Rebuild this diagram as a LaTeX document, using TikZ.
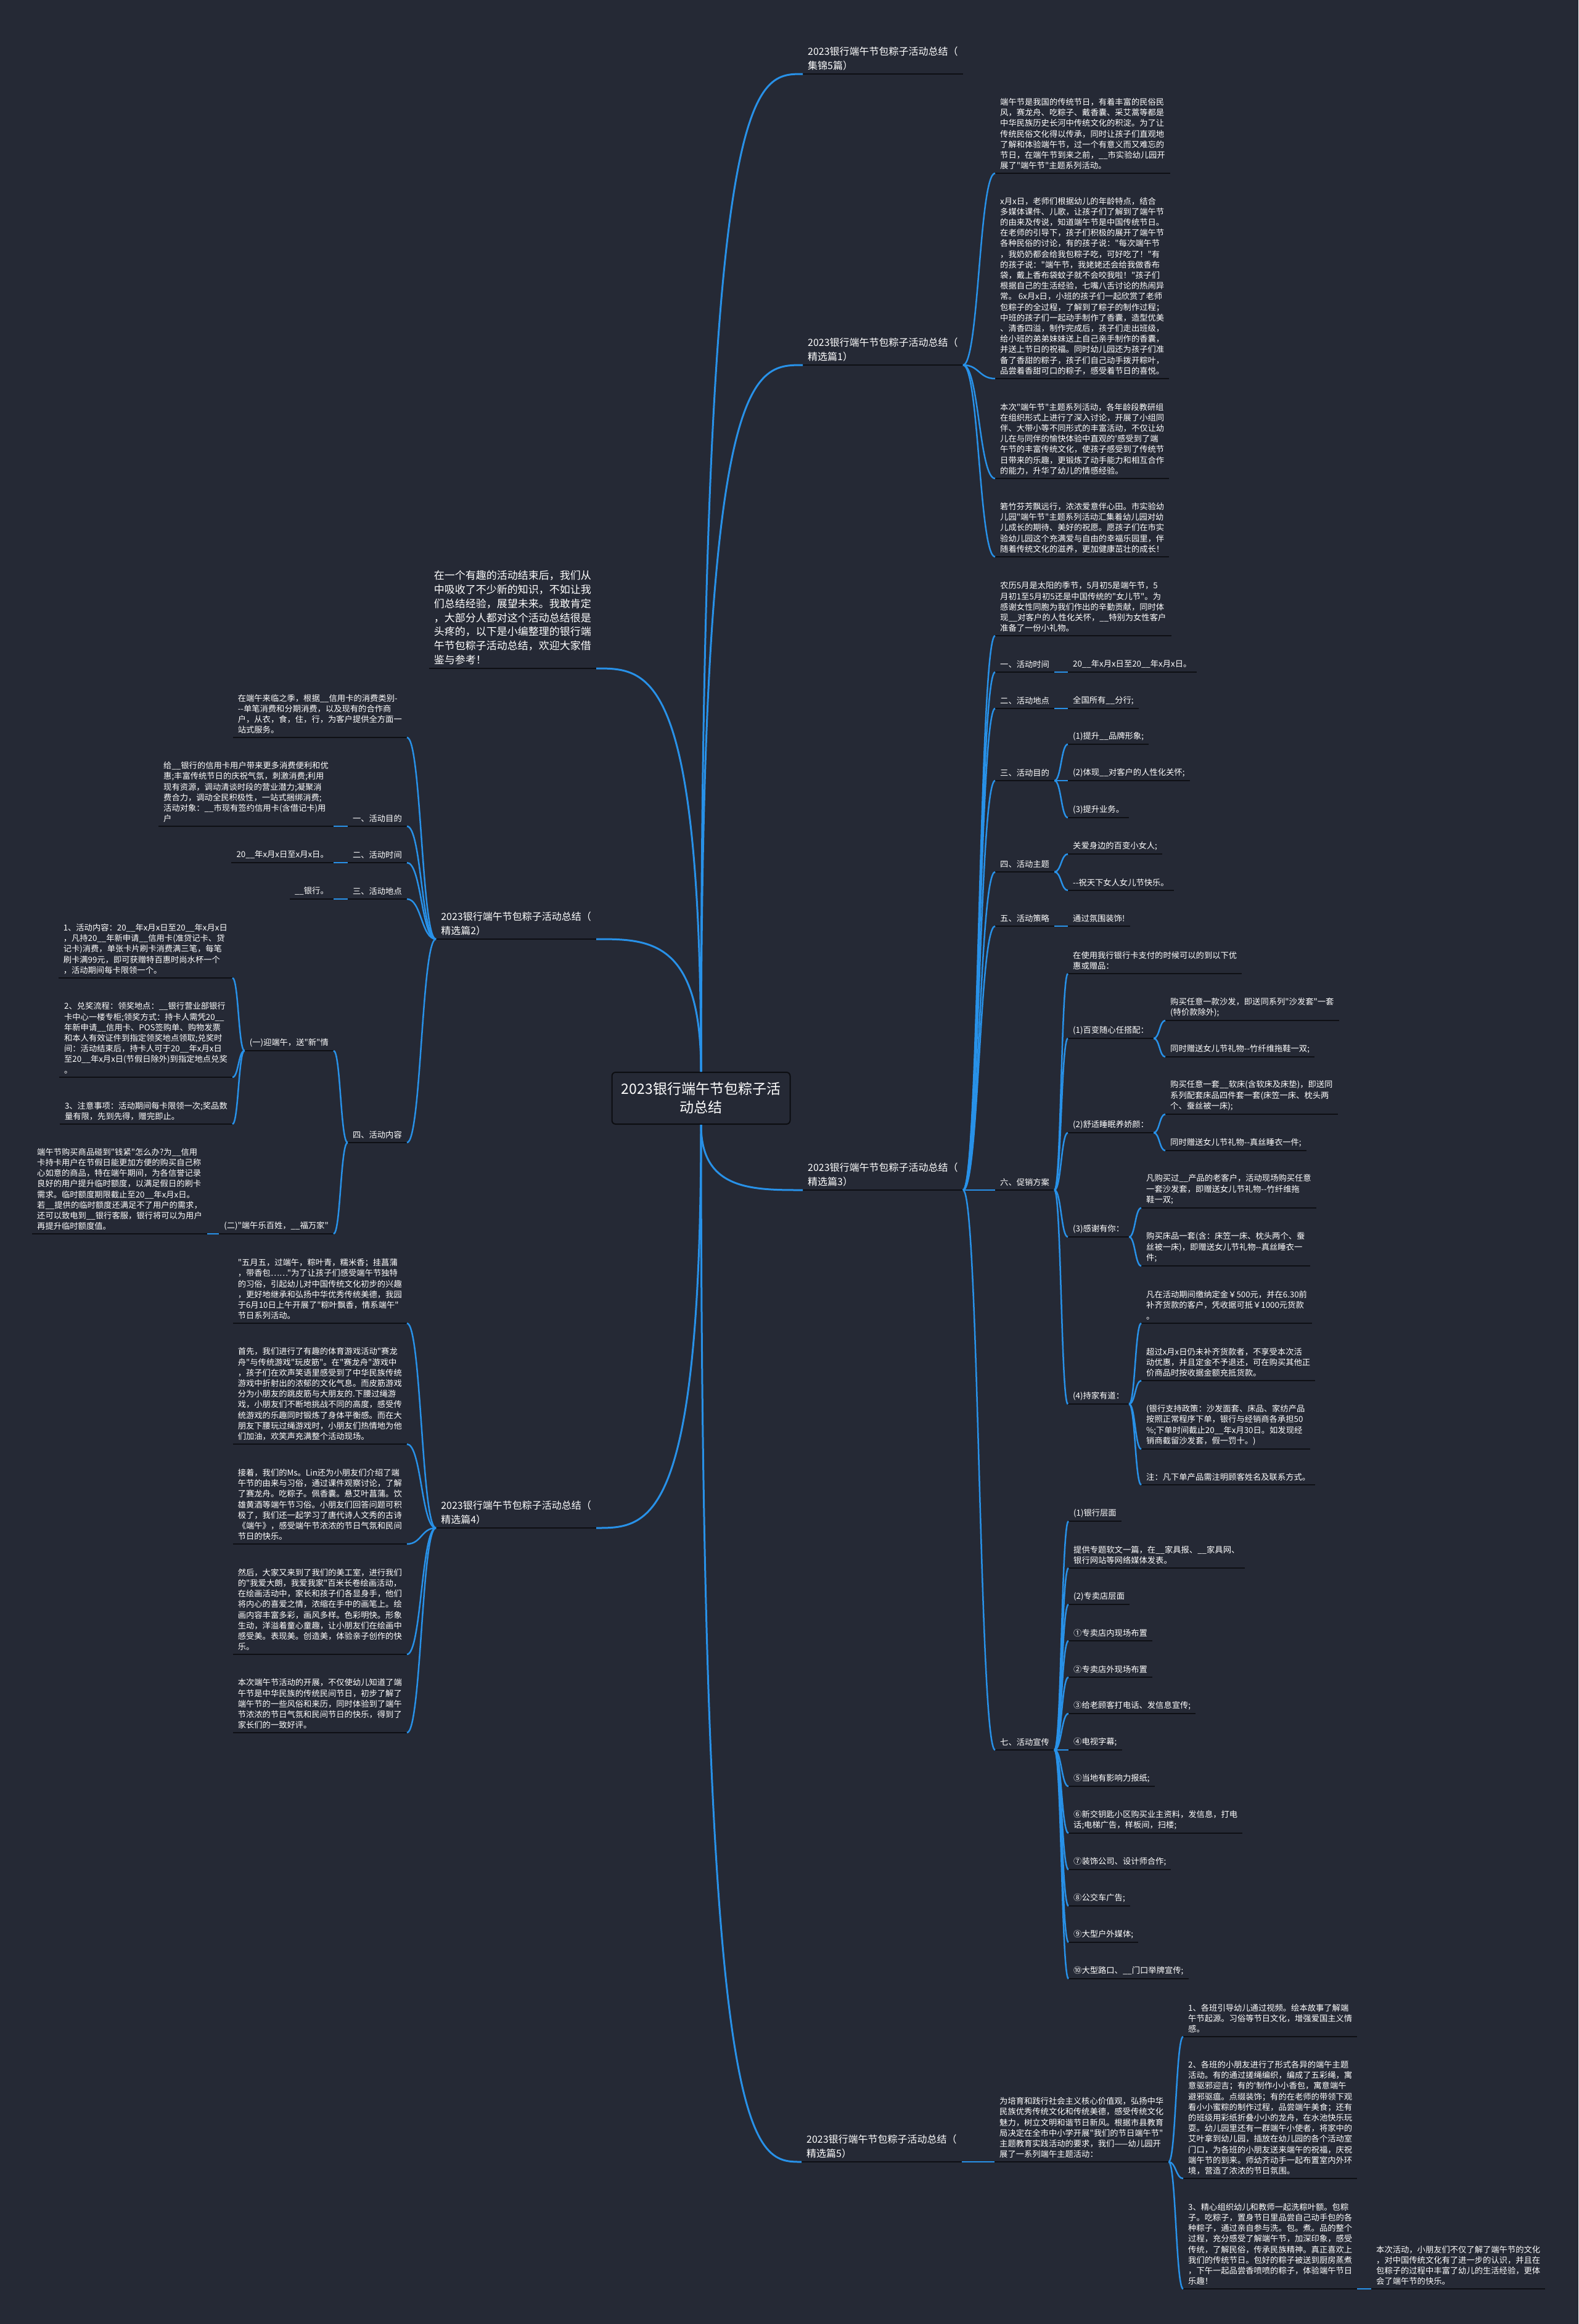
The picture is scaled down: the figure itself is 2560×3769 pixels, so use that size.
\documentclass[tikz,border=0pt]{standalone}
\usepackage{fontspec}
\setmainfont{Noto Sans CJK SC}[Ligatures=TeXOff]
\usetikzlibrary{calc}

\definecolor{bgc}{RGB}{37,41,53}
\definecolor{linkblue}{RGB}{40,145,232}
\definecolor{ulc}{RGB}{14,15,20}
\definecolor{rootedge}{RGB}{12,13,17}

\newcommand\bodyfont{\fontsize{13.3}{17.2}\selectfont}
\newcommand\titlefont{\fontsize{16}{23}\selectfont}
\newcommand\introfont{\fontsize{17}{22.8}\selectfont}
\newcommand\rootfont{\fontsize{23}{30}\selectfont}

\begin{document}
\begin{tikzpicture}[
        x=1pt, y=-1pt,
        hub/.style={
            rectangle, rounded corners=6pt, draw=rootedge, fill=bgc, line width=2pt,
            minimum width=289pt, minimum height=84pt, align=center,
            font=\rootfont, text=white
        },
        uline/.style={draw=ulc, line width=2.5pt},
        leaf/.style={
            anchor=south west, align=left, inner xsep=8pt, inner ysep=6pt,
            font=\bodyfont, text=white,
            append after command={(\tikzlastnode.south west) edge[uline] (\tikzlastnode.south east)}
        },
        leafL/.style={leaf, anchor=south east},
        branch/.style={leaf, font=\titlefont},
        branchL/.style={leafL, font=\titlefont},
        limb/.style={draw=linkblue, line width=3pt,
            to path={.. controls (\tikztostart |- \tikztotarget) and ($(\tikztostart |- \tikztotarget)!0.5!(\tikztotarget)$) .. (\tikztotarget)}},
        twig/.style={draw=linkblue, line width=2.5pt,
            to path={.. controls ($(\tikztostart)!0.5!(\tikztostart -| \tikztotarget)$) and ($(\tikztotarget)!0.5!(\tikztotarget -| \tikztostart)$) .. (\tikztotarget)}}
    ]
    \fill[bgc] (0,0) rectangle (2560,3769);
    \useasboundingbox (0,0) rectangle (2560,3769);

    % Root
    \node[hub] (root) at (1137,1781) {2023银行端午节包粽子活\\动总结};

    % Right: titles
    \node[branch] (t0) at (1302,120) {2023银行端午节包粽子活动总结（\\集锦5篇）};
    \node[branch] (t1) at (1302,592) {2023银行端午节包粽子活动总结（\\精选篇1）};
    \node[branch] (t3) at (1302,1930) {2023银行端午节包粽子活动总结（\\精选篇3）};
    \node[branch] (t5) at (1300,3506) {2023银行端午节包粽子活动总结（\\精选篇5）};

    % Left: intro and titles
    \node[leafL, font=\introfont] (intro) at (967,1084) {在一个有趣的活动结束后，我们从\\中吸收了不少新的知识，不如让我\\们总结经验，展望未来。我敢肯定\\，大部分人都对这个活动总结很是\\头疼的，以下是小编整理的银行端\\午节包粽子活动总结，欢迎大家借\\鉴与参考！};
    \node[branchL] (t2) at (967,1523) {2023银行端午节包粽子活动总结（\\精选篇2）};
    \node[branchL] (t4) at (967,2478) {2023银行端午节包粽子活动总结（\\精选篇4）};

    % Piece 1
    \node[leaf] (t1a) at (1614,281) {端午节是我国的传统节日，有着丰富的民俗民\\风，赛龙舟、吃粽子、戴香囊、采艾蒿等都是\\中华民族历史长河中传统文化的积淀。为了让\\传统民俗文化得以传承，同时让孩子们直观地\\了解和体验端午节，过一个有意义而又难忘的\\节日，在端午节到来之前，\_\_市实验幼儿园开\\展了"端午节"主题系列活动。};
    \node[leaf] (t1b) at (1614,614) {x月x日，老师们根据幼儿的年龄特点，结合\\多媒体课件、儿歌，让孩子们了解到了端午节\\的由来及传说，知道端午节是中国传统节日。\\在老师的引导下，孩子们积极的展开了端午节\\各种民俗的讨论，有的孩子说："每次端午节\\，我奶奶都会给我包粽子吃，可好吃了！"有\\的孩子说："端午节，我姥姥还会给我做香布\\袋，戴上香布袋蚊子就不会咬我啦！"孩子们\\根据自己的生活经验，七嘴八舌讨论的热闹异\\常。 6x月x日，小班的孩子们一起欣赏了老师\\包粽子的全过程，了解到了粽子的制作过程；\\中班的孩子们一起动手制作了香囊，造型优美\\、清香四溢，制作完成后，孩子们走出班级，\\给小班的弟弟妹妹送上自己亲手制作的香囊，\\并送上节日的祝福。同时幼儿园还为孩子们准\\备了香甜的粽子，孩子们自己动手拨开粽叶，\\品尝着香甜可口的粽子，感受着节日的喜悦。};
    \node[leaf] (t1c) at (1614,776) {本次"端午节"主题系列活动，各年龄段教研组\\在组织形式上进行了深入讨论，开展了小组同\\伴、大带小等不同形式的丰富活动，不仅让幼\\儿在与同伴的愉快体验中直观的'感受到了端\\午节的丰富传统文化，使孩子感受到了传统节\\日带来的乐趣，更锻炼了动手能力和相互合作\\的能力，升华了幼儿的情感经验。};
    \node[leaf] (t1d) at (1614,903) {箬竹芬芳飘远行，浓浓爱意伴心田。市实验幼\\儿园"端午节"主题系列活动汇集着幼儿园对幼\\儿成长的期待、美好的祝愿。愿孩子们在市实\\验幼儿园这个充满爱与自由的幸福乐园里，伴\\随着传统文化的滋养，更加健康茁壮的成长！};

    % Piece 3
    \node[leaf] (t3pre) at (1614,1031) {农历5月是太阳的季节，5月初5是端午节，5\\月初1至5月初5还是中国传统的"女儿节"。为\\感谢女性同胞为我们作出的辛勤贡献，同时体\\现\_\_对客户的人性化关怀，\_\_特别为女性客户\\准备了一份小礼物。};
    \node[leaf] (t3time) at (1614,1090) {一、活动时间};
    \node[leaf] (t3timeA) at (1732,1090) {20\_\_年x月x日至20\_\_年x月x日。};
    \node[leaf] (t3site) at (1614,1149) {二、活动地点};
    \node[leaf] (t3siteA) at (1732,1149) {全国所有\_\_分行;};
    \node[leaf] (t3aim) at (1614,1266) {三、活动目的};
    \node[leaf] (t3aimA) at (1732,1207) {(1)提升\_\_品牌形象;};
    \node[leaf] (t3aimB) at (1732,1266) {(2)体现\_\_对客户的人性化关怀;};
    \node[leaf] (t3aimC) at (1732,1326) {(3)提升业务。};
    \node[leaf] (t3theme) at (1614,1414) {四、活动主题};
    \node[leaf] (t3themeA) at (1732,1385) {关爱身边的百变小女人;};
    \node[leaf] (t3themeB) at (1732,1444) {--祝天下女人女儿节快乐。};
    \node[leaf] (t3way) at (1614,1502) {五、活动策略};
    \node[leaf] (t3wayA) at (1732,1502) {通过氛围装饰!};
    \node[leaf] (t3promo) at (1614,1930) {六、促销方案};
    \node[leaf] (t3promoA) at (1732,1579) {在使用我行银行卡支付的时候可以的到以下优\\惠或赠品：};
    \node[leaf] (t3p1) at (1732,1684) {(1)百变随心任搭配：};
    \node[leaf] (t3p1a) at (1890,1655) {购买任意一款沙发，即送同系列"沙发套"一套\\(特价款除外);};
    \node[leaf] (t3p1b) at (1890,1714) {同时赠送女儿节礼物--竹纤维拖鞋一双;};
    \node[leaf] (t3p2) at (1732,1837) {(2)舒适睡眠养娇颜：};
    \node[leaf] (t3p2a) at (1890,1807) {购买任意一套\_\_软床(含软床及床垫)，即送同\\系列配套床品四件套一套(床笠一床、枕头两\\个、蚕丝被一床);};
    \node[leaf] (t3p2b) at (1890,1866) {同时赠送女儿节礼物--真丝睡衣一件;};
    \node[leaf] (t3p3) at (1732,2006) {(3)感谢有你：};
    \node[leaf] (t3p3a) at (1851,1959) {凡购买过\_\_产品的老客户，活动现场购买任意\\一套沙发套，即赠送女儿节礼物--竹纤维拖\\鞋一双;};
    \node[leaf] (t3p3b) at (1851,2053) {购买床品一套(含：床笠一床、枕头两个、蚕\\丝被一床)，即赠送女儿节礼物--真丝睡衣一\\件;};
    \node[leaf] (t3p4) at (1732,2277) {(4)持家有道：};
    \node[leaf] (t3p4a) at (1851,2146) {凡在活动期间缴纳定金￥500元，并在6.30前\\补齐货款的客户，凭收据可抵￥1000元货款\\。};
    \node[leaf] (t3p4b) at (1851,2239) {超过x月x日仍未补齐货款者，不享受本次活\\动优惠，并且定金不予退还，可在购买其他正\\价商品时按收据金额充抵货款。};
    \node[leaf] (t3p4c) at (1851,2350) {(银行支持政策：沙发面套、床品、家纺产品\\按照正常程序下单，银行与经销商各承担50\\\%;下单时间截止20\_\_年x月30日。如发现经\\销商截留沙发套，假一罚十。)};
    \node[leaf] (t3p4d) at (1851,2408) {注：凡下单产品需注明顾客姓名及联系方式。};
    \node[leaf] (t3ad) at (1614,2838) {七、活动宣传};
    \node[leaf] (t3ad1) at (1733,2467) {(1)银行层面};
    \node[leaf] (t3ad2) at (1733,2543) {提供专题软文一篇，在\_\_家具报、\_\_家具网、\\银行网站等网络媒体发表。};
    \node[leaf] (t3ad3) at (1733,2602) {(2)专卖店层面};
    \node[leaf] (t3ad4) at (1733,2661) {①专卖店内现场布置};
    \node[leaf] (t3ad5) at (1733,2720) {②专卖店外现场布置};
    \node[leaf] (t3ad6) at (1733,2779) {③给老顾客打电话、发信息宣传;};
    \node[leaf] (t3ad7) at (1733,2838) {④电视字幕;};
    \node[leaf] (t3ad8) at (1733,2897) {⑤当地有影响力报纸;};
    \node[leaf] (t3ad9) at (1733,2973) {⑥新交钥匙小区购买业主资料，发信息，打电\\话;电梯广告，样板间，扫楼;};
    \node[leaf] (t3ad10) at (1733,3032) {⑦装饰公司、设计师合作;};
    \node[leaf] (t3ad11) at (1733,3091) {⑧公交车广告;};
    \node[leaf] (t3ad12) at (1733,3150) {⑨大型户外媒体;};
    \node[leaf] (t3ad13) at (1733,3209) {⑩大型路口、\_\_门口举牌宣传;};

    % Piece 5
    \node[leaf] (t5pre) at (1613,3506) {为培育和践行社会主义核心价值观，弘扬中华\\民族优秀传统文化和传统美德，感受传统文化\\魅力，树立文明和谐节日新风。根据市县教育\\局决定在全市中小学开展"我们的节日端午节"\\主题教育实践活动的要求，我们——幼儿园开\\展了一系列端午主题活动：};
    \node[leaf] (t5a) at (1919,3303) {1、各班引导幼儿通过视频。绘本故事了解端\\午节起源。习俗等节日文化，增强爱国主义情\\感。};
    \node[leaf] (t5b) at (1919,3533) {2、各班的小朋友进行了形式各异的端午主题\\活动。有的通过搓绳编织，编成了五彩绳，寓\\意驱邪迎吉；有的'制作小小香包，寓意端午\\避邪驱瘟。点缀装饰；有的在老师的带领下观\\看小小蜜粽的制作过程，品尝端午美食；还有\\的班级用彩纸折叠小小的龙舟，在水池快乐玩\\耍。幼儿园里还有一群端午小使者，将家中的\\艾叶拿到幼儿园，插放在幼儿园的各个活动室\\门口，为各班的小朋友送来端午的祝福，庆祝\\端午节的到来。师幼齐动手一起布置室内外环\\境，营造了浓浓的节日氛围。};
    \node[leaf] (t5c) at (1919,3712) {3、精心组织幼儿和教师一起洗粽叶额。包粽\\子。吃粽子，置身节日里品尝自己动手包的各\\种粽子，通过亲自参与洗。包。煮。品的整个\\过程，充分感受了解端午节，加深印象，感受\\传统，了解民俗，传承民族精神。真正喜欢上\\我们的传统节日。包好的粽子被送到厨房蒸煮\\，下午一起品尝香喷喷的粽子，体验端午节日\\乐趣！};
    \node[leaf] (t5c1) at (2224,3712) {本次活动，小朋友们不仅了解了端午节的文化\\，对中国传统文化有了进一步的认识，并且在\\包粽子的过程中丰富了幼儿的生活经验，更体\\会了端午节的快乐。};

    % Piece 2 (left)
    \node[leafL] (t2pre) at (660,1196) {在端午来临之季，根据\_\_信用卡的消费类别-\\--单笔消费和分期消费，以及现有的合作商\\户，从衣，食，住，行，为客户提供全方面一\\站式服务。};
    \node[leafL] (t2aim) at (660,1340) {一、活动目的};
    \node[leafL] (t2aimA) at (541,1340) {给\_\_银行的信用卡用户带来更多消费便利和优\\惠;丰富传统节日的庆祝气氛，刺激消费;利用\\现有资源，调动清谈时段的营业潜力;凝聚消\\费合力，调动全民积极性，一站式捆绑消费;\\活动对象：\_\_市现有签约信用卡(含借记卡)用\\户};
    \node[leafL] (t2time) at (660,1399) {二、活动时间};
    \node[leafL] (t2timeA) at (541,1399) {20\_\_年x月x日至x月x日。};
    \node[leafL] (t2site) at (660,1458) {三、活动地点};
    \node[leafL] (t2siteA) at (541,1458) {\_\_银行。};
    \node[leafL] (t2act) at (660,1853) {四、活动内容};
    \node[leafL] (t2actA) at (541,1704) {(一)迎端午，送"新"情};
    \node[leafL] (t2actA1) at (377,1586) {1、活动内容：20\_\_年x月x日至20\_\_年x月x日\\，凡持20\_\_年新申请\_\_信用卡(准贷记卡、贷\\记卡)消费，单张卡片刷卡消费满三笔，每笔\\刷卡满99元，即可获赠特百惠时尚水杯一个\\，活动期间每卡限领一个。};
    \node[leafL] (t2actA2) at (377,1747) {2、兑奖流程：领奖地点：\_\_银行营业部银行\\卡中心一楼专柜;领奖方式：持卡人需凭20\_\_\\年新申请\_\_信用卡、POS签购单、购物发票\\和本人有效证件到指定领奖地点领取;兑奖时\\间：活动结束后，持卡人可于20\_\_年x月x日\\至20\_\_年x月x日(节假日除外)到指定地点兑奖\\。};
    \node[leafL] (t2actA3) at (377,1823) {3、注意事项：活动期间每卡限领一次;奖品数\\量有限，先到先得，赠完即止。};
    \node[leafL] (t2actB) at (541,2001) {(二)"端午乐百姓，\_\_福万家"};
    \node[leafL] (t2actB1) at (336,2001) {端午节购买商品碰到"钱紧"怎么办?为\_\_信用\\卡持卡用户在节假日能更加方便的购买自己称\\心如意的商品，特在端午期间，为各信誉记录\\良好的用户提升临时额度，以满足假日的刷卡\\需求。临时额度期限截止至20\_\_年x月x日。\\若\_\_提供的临时额度还满足不了用户的需求，\\还可以致电到\_\_银行客服，银行将可以为用户\\再提升临时额度值。};

    % Piece 4 (left)
    \node[leafL] (t4a) at (660,2146) {"五月五，过端午，粽叶青，糯米香；挂菖蒲\\，带香包……"为了让孩子们感受端午节独特\\的习俗，引起幼儿对中国传统文化初步的兴趣\\，更好地继承和弘扬中华优秀传统美德，我园\\于6月10日上午开展了"粽叶飘香，情系端午"\\节日系列活动。};
    \node[leafL] (t4b) at (660,2342) {首先，我们进行了有趣的体育游戏活动"赛龙\\舟"与传统游戏"玩皮筋"。在"赛龙舟"游戏中\\，孩子们在欢声笑语里感受到了中华民族传统\\游戏中折射出的浓郁的文化气息。而皮筋游戏\\分为小朋友的跳皮筋与大朋友的.下腰过绳游\\戏，小朋友们不断地挑战不同的高度，感受传\\统游戏的乐趣同时锻炼了身体平衡感。而在大\\朋友下腰玩过绳游戏时，小朋友们热情地为他\\们加油，欢笑声充满整个活动现场。};
    \node[leafL] (t4c) at (660,2504) {接着，我们的Ms。Lin还为小朋友们介绍了端\\午节的由来与习俗，通过课件观察讨论，了解\\了赛龙舟。吃粽子。佩香囊。悬艾叶菖蒲。饮\\雄黄酒等端午节习俗。小朋友们回答问题可积\\极了，我们还一起学习了唐代诗人文秀的古诗\\《端午》，感受端午节浓浓的节日气氛和民间\\节日的快乐。};
    \node[leafL] (t4d) at (660,2683) {然后，大家又来到了我们的美工室，进行我们\\的"我爱大朗，我爱我家"百米长卷绘画活动，\\在绘画活动中，家长和孩子们各显身手，他们\\将内心的喜爱之情，浓缩在手中的画笔上。绘\\画内容丰富多彩，画风多样。色彩明快。形象\\生动，洋溢着童心童趣，让小朋友们在绘画中\\感受美。表现美。创造美，体验亲子创作的快\\乐。};
    \node[leafL] (t4e) at (660,2810) {本次端午节活动的开展，不仅使幼儿知道了端\\午节是中华民族的传统民间节日，初步了解了\\端午节的一些风俗和来历，同时体验到了端午\\节浓浓的节日气氛和民间节日的快乐，得到了\\家长们的一致好评。};

    % Links: root -> titles
    \draw[limb] (root.north) to (t0.south west);
    \draw[limb] (root.north) to (t1.south west);
    \draw[limb] (root.north) to (intro.south east);
    \draw[limb] (root.north) to (t2.south east);
    \draw[limb] (root.south) to (t3.south west);
    \draw[limb] (root.south) to (t5.south west);
    \draw[limb] (root.south) to (t4.south east);

    % Links: piece 1
    \draw[twig] (t1.south east) to (t1a.south west);
    \draw[twig] (t1.south east) to (t1b.south west);
    \draw[twig] (t1.south east) to (t1c.south west);
    \draw[twig] (t1.south east) to (t1d.south west);

    % Links: piece 3
    \draw[twig] (t3.south east) to (t3pre.south west);
    \draw[twig] (t3.south east) to (t3time.south west);
    \draw[twig] (t3.south east) to (t3site.south west);
    \draw[twig] (t3.south east) to (t3aim.south west);
    \draw[twig] (t3.south east) to (t3theme.south west);
    \draw[twig] (t3.south east) to (t3way.south west);
    \draw[twig] (t3.south east) to (t3promo.south west);
    \draw[twig] (t3.south east) to (t3ad.south west);
    \draw[twig] (t3time.south east) to (t3timeA.south west);
    \draw[twig] (t3site.south east) to (t3siteA.south west);
    \draw[twig] (t3aim.south east) to (t3aimA.south west);
    \draw[twig] (t3aim.south east) to (t3aimB.south west);
    \draw[twig] (t3aim.south east) to (t3aimC.south west);
    \draw[twig] (t3theme.south east) to (t3themeA.south west);
    \draw[twig] (t3theme.south east) to (t3themeB.south west);
    \draw[twig] (t3way.south east) to (t3wayA.south west);
    \draw[twig] (t3promo.south east) to (t3promoA.south west);
    \draw[twig] (t3promo.south east) to (t3p1.south west);
    \draw[twig] (t3promo.south east) to (t3p2.south west);
    \draw[twig] (t3promo.south east) to (t3p3.south west);
    \draw[twig] (t3promo.south east) to (t3p4.south west);
    \draw[twig] (t3p1.south east) to (t3p1a.south west);
    \draw[twig] (t3p1.south east) to (t3p1b.south west);
    \draw[twig] (t3p2.south east) to (t3p2a.south west);
    \draw[twig] (t3p2.south east) to (t3p2b.south west);
    \draw[twig] (t3p3.south east) to (t3p3a.south west);
    \draw[twig] (t3p3.south east) to (t3p3b.south west);
    \draw[twig] (t3p4.south east) to (t3p4a.south west);
    \draw[twig] (t3p4.south east) to (t3p4b.south west);
    \draw[twig] (t3p4.south east) to (t3p4c.south west);
    \draw[twig] (t3p4.south east) to (t3p4d.south west);
    \draw[twig] (t3ad.south east) to (t3ad1.south west);
    \draw[twig] (t3ad.south east) to (t3ad2.south west);
    \draw[twig] (t3ad.south east) to (t3ad3.south west);
    \draw[twig] (t3ad.south east) to (t3ad4.south west);
    \draw[twig] (t3ad.south east) to (t3ad5.south west);
    \draw[twig] (t3ad.south east) to (t3ad6.south west);
    \draw[twig] (t3ad.south east) to (t3ad7.south west);
    \draw[twig] (t3ad.south east) to (t3ad8.south west);
    \draw[twig] (t3ad.south east) to (t3ad9.south west);
    \draw[twig] (t3ad.south east) to (t3ad10.south west);
    \draw[twig] (t3ad.south east) to (t3ad11.south west);
    \draw[twig] (t3ad.south east) to (t3ad12.south west);
    \draw[twig] (t3ad.south east) to (t3ad13.south west);

    % Links: piece 5
    \draw[twig] (t5.south east) to (t5pre.south west);
    \draw[twig] (t5pre.south east) to (t5a.south west);
    \draw[twig] (t5pre.south east) to (t5b.south west);
    \draw[twig] (t5pre.south east) to (t5c.south west);
    \draw[twig] (t5c.south east) to (t5c1.south west);

    % Links: piece 2
    \draw[twig] (t2.south west) to (t2pre.south east);
    \draw[twig] (t2.south west) to (t2aim.south east);
    \draw[twig] (t2.south west) to (t2time.south east);
    \draw[twig] (t2.south west) to (t2site.south east);
    \draw[twig] (t2.south west) to (t2act.south east);
    \draw[twig] (t2aim.south west) to (t2aimA.south east);
    \draw[twig] (t2time.south west) to (t2timeA.south east);
    \draw[twig] (t2site.south west) to (t2siteA.south east);
    \draw[twig] (t2act.south west) to (t2actA.south east);
    \draw[twig] (t2act.south west) to (t2actB.south east);
    \draw[twig] (t2actA.south west) to (t2actA1.south east);
    \draw[twig] (t2actA.south west) to (t2actA2.south east);
    \draw[twig] (t2actA.south west) to (t2actA3.south east);
    \draw[twig] (t2actB.south west) to (t2actB1.south east);

    % Links: piece 4
    \draw[twig] (t4.south west) to (t4a.south east);
    \draw[twig] (t4.south west) to (t4b.south east);
    \draw[twig] (t4.south west) to (t4c.south east);
    \draw[twig] (t4.south west) to (t4d.south east);
    \draw[twig] (t4.south west) to (t4e.south east);
\end{tikzpicture}
\end{document}
